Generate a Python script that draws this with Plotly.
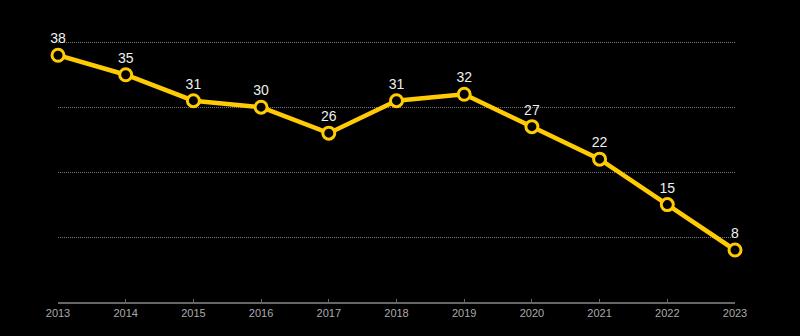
import plotly.graph_objects as go

years = [2013, 2014, 2015, 2016, 2017, 2018, 2019, 2020, 2021, 2022, 2023]
values = [38, 35, 31, 30, 26, 31, 32, 27, 22, 15, 8]
labels = [str(v) for v in values]

fig = go.Figure()
fig.add_trace(go.Scatter(
    x=years, y=values, mode="lines+markers+text",
    text=labels, textposition="top center",
    textfont=dict(color="#f0f0f0", size=14, family="Liberation Sans, Arial, sans-serif"),
    line=dict(color="#FFCB05", width=4.5),
    marker=dict(size=12, color="#000000", line=dict(color="#FFCB05", width=3)),
    cliponaxis=False, hoverinfo="skip",
))

fig.update_layout(
    width=800, height=336,
    margin=dict(l=58, r=65, t=39, b=34),
    paper_bgcolor="#000000", plot_bgcolor="#000000",
    showlegend=False,
    font=dict(family="Liberation Sans, Arial, sans-serif"),
)
fig.update_xaxes(
    range=[2013, 2023], tickvals=years, ticktext=[str(y) for y in years],
    showgrid=False, zeroline=False,
    showline=True, linecolor="#666666", linewidth=1.5,
    ticks="inside", ticklen=3, tickcolor="#666666",
    tickfont=dict(color="#aaaaaa", size=11),
)
fig.update_yaxes(
    range=[0, 40.5], tickvals=[10, 20, 30, 40], showticklabels=False,
    showgrid=True, gridcolor="#777777", gridwidth=1, griddash="1px,1px",
    zeroline=False, showline=False,
)

fig.write_html("out.html")
